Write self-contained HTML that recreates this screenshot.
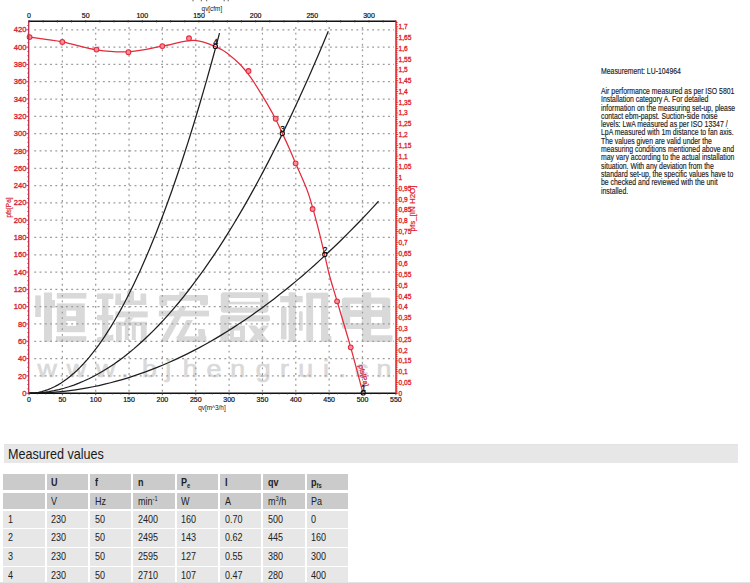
<!DOCTYPE html>
<html><head><meta charset="utf-8"><style>
html,body{margin:0;padding:0;background:#fff;}
body{width:750px;height:583px;position:relative;overflow:hidden;font-family:"Liberation Sans",sans-serif;}
.chart{position:absolute;left:0;top:0;}
.note{position:absolute;left:601px;font-size:8.2px;line-height:9px;color:#1a1a1a;-webkit-text-stroke:0.15px #1a1a1a;white-space:nowrap;transform:scaleX(0.84);transform-origin:0 0;}
.bar{position:absolute;left:3.5px;top:444.1px;width:734.2px;height:18.5px;background:#e7e7e7;border-top:1px solid #e2e2e2;box-sizing:border-box;}
.bar span{position:absolute;left:4.5px;top:1.2px;font-size:14.4px;color:#1a1a1a;transform:scaleX(0.875);transform-origin:0 0;white-space:nowrap;}
.c{position:absolute;width:41.3px;height:16.6px;font-size:11px;line-height:16.6px;color:#222;padding-left:4.6px;box-sizing:border-box;white-space:nowrap;}
.c span{display:inline-block;transform:scaleX(0.82);transform-origin:0 50%;}
.c.h{font-weight:bold;}
.c sub{font-size:7px;vertical-align:-2px;line-height:0;}
.c sup{font-size:7px;vertical-align:4px;line-height:0;}
.bot{position:absolute;left:0;top:581.6px;width:750px;height:1.4px;background:#e2e2e2;}
</style></head><body>
<svg class="chart" width="440" height="420" viewBox="0 0 440 420"><rect x="35.2" y="295.4" width="5.6" height="21.6" fill="#d9d9d9"/><rect x="44" y="292.5" width="8" height="49.3" fill="#d9d9d9"/><rect x="52" y="300" width="3" height="8" fill="#d9d9d9"/><rect x="56.8" y="293" width="29.6" height="5.6" fill="#d9d9d9"/><rect x="56.8" y="303.4" width="28" height="28.8" fill="#d9d9d9"/><rect x="66.4" y="310.6" width="9.6" height="5.6" fill="#ffffff"/><rect x="66.4" y="321" width="9.6" height="4.8" fill="#ffffff"/><rect x="56" y="336.2" width="30.4" height="5.6" fill="#d9d9d9"/><rect x="97" y="293.5" width="16.4" height="5.5" fill="#d9d9d9"/><rect x="102" y="293.5" width="6.4" height="48.2" fill="#d9d9d9"/><rect x="97" y="315" width="16.4" height="5.3" fill="#d9d9d9"/><polygon points="97,337.5 113.4,334.5 113.4,340.5 97,342.2" fill="#d9d9d9"/><rect x="115.4" y="293.5" width="5.6" height="11.5" fill="#d9d9d9"/><rect x="127" y="291" width="7" height="14" fill="#d9d9d9"/><rect x="140.5" y="293.5" width="5.7" height="11.5" fill="#d9d9d9"/><rect x="115.4" y="300.5" width="30.8" height="4.5" fill="#d9d9d9"/><rect x="115.4" y="311.4" width="32.3" height="6" fill="#d9d9d9"/><polygon points="126,317.4 134,317.4 130,322 124,322" fill="#d9d9d9"/><rect x="116" y="321.8" width="30.7" height="4.2" fill="#d9d9d9"/><rect x="116" y="321.8" width="5.8" height="20.4" fill="#d9d9d9"/><rect x="140.8" y="321.8" width="5.9" height="20.4" fill="#d9d9d9"/><rect x="124.8" y="321.8" width="4" height="18.2" fill="#d9d9d9"/><rect x="131.8" y="321.8" width="4" height="18.2" fill="#d9d9d9"/><rect x="179.2" y="291.5" width="6.3" height="4.5" fill="#d9d9d9"/><rect x="159.3" y="295" width="48.7" height="5.7" rx="2" fill="#d9d9d9"/><rect x="159.3" y="295" width="7.9" height="11" rx="2" fill="#d9d9d9"/><rect x="200" y="295" width="8" height="10.4" rx="2" fill="#d9d9d9"/><rect x="158.8" y="310.6" width="50.2" height="5.8" fill="#d9d9d9"/><polygon points="180.5,306 187,306 167,342 160,342" fill="#d9d9d9"/><polygon points="186.5,320 193,320 183.4,338 176.6,338" fill="#d9d9d9"/><rect x="176.6" y="336.3" width="29.8" height="5.7" fill="#d9d9d9"/><polygon points="198,329 204.5,329 206.4,342 199,342" fill="#d9d9d9"/><rect x="220.8" y="292.3" width="47.6" height="20.4" rx="3" fill="#d9d9d9"/><rect x="229" y="298" width="31" height="3.7" fill="#ffffff"/><rect x="229" y="304.4" width="31" height="3.1" fill="#ffffff"/><rect x="220.8" y="315.3" width="49.2" height="6.3" rx="2" fill="#d9d9d9"/><rect x="220.3" y="315.3" width="8.9" height="26.7" rx="2" fill="#d9d9d9"/><rect x="230" y="325.5" width="15" height="16.5" fill="#d9d9d9"/><rect x="234" y="330.5" width="6" height="6.5" fill="#ffffff"/><polygon points="248,325.5 256,325.5 269,342 260,342" fill="#d9d9d9"/><polygon points="262,325.5 269,325.5 256,342 248,342" fill="#d9d9d9"/><rect x="280.2" y="296" width="22.5" height="6.3" fill="#d9d9d9"/><rect x="288.6" y="292.3" width="7.3" height="49.7" fill="#d9d9d9"/><polygon points="281,307 286.5,307 286.5,339.4 281,339.4" fill="#d9d9d9"/><rect x="299" y="311" width="3.7" height="20" rx="1.8" fill="#d9d9d9"/><rect x="306.3" y="292.8" width="6.8" height="49.2" fill="#d9d9d9"/><rect x="306.3" y="292.8" width="22" height="5.8" rx="2" fill="#d9d9d9"/><rect x="321" y="292.8" width="7.3" height="49.2" fill="#d9d9d9"/><rect x="326" y="336" width="5.4" height="6" fill="#d9d9d9"/><rect x="341.8" y="297.6" width="48.6" height="31.4" rx="3" fill="#d9d9d9"/><rect x="350.2" y="303.8" width="11.5" height="6.3" fill="#ffffff"/><rect x="371.1" y="303.8" width="10.9" height="6.3" fill="#ffffff"/><rect x="350.2" y="316.9" width="11.5" height="6.3" fill="#ffffff"/><rect x="371.1" y="316.9" width="10.9" height="6.3" fill="#ffffff"/><rect x="362.2" y="292.3" width="8.9" height="49.7" fill="#d9d9d9"/><rect x="362.2" y="335.2" width="30.3" height="6.8" rx="1" fill="#d9d9d9"/><text transform="translate(37.44,377.3) scale(1.1,1)" font-size="24.3" fill="#d9d9d9" stroke="#d9d9d9" stroke-width="0.7" font-family="Liberation Sans">w</text><text transform="translate(66.74,377.3) scale(1.1,1)" font-size="24.3" fill="#d9d9d9" stroke="#d9d9d9" stroke-width="0.7" font-family="Liberation Sans">w</text><text transform="translate(96.04,377.3) scale(1.1,1)" font-size="24.3" fill="#d9d9d9" stroke="#d9d9d9" stroke-width="0.7" font-family="Liberation Sans">w</text><text transform="translate(121.06,377.3) scale(1.1,1)" font-size="24.3" fill="#d9d9d9" stroke="#d9d9d9" stroke-width="0.7" font-family="Liberation Sans">.</text><text transform="translate(141.98,377.3) scale(1.1,1)" font-size="24.3" fill="#d9d9d9" stroke="#d9d9d9" stroke-width="0.7" font-family="Liberation Sans">b</text><text transform="translate(165.15,377.3) scale(1.1,1)" font-size="24.3" fill="#d9d9d9" stroke="#d9d9d9" stroke-width="0.7" font-family="Liberation Sans">j</text><text transform="translate(182.65,377.3) scale(1.1,1)" font-size="24.3" fill="#d9d9d9" stroke="#d9d9d9" stroke-width="0.7" font-family="Liberation Sans">h</text><text transform="translate(206.56,377.3) scale(1.1,1)" font-size="24.3" fill="#d9d9d9" stroke="#d9d9d9" stroke-width="0.7" font-family="Liberation Sans">e</text><text transform="translate(230.32,377.3) scale(1.1,1)" font-size="24.3" fill="#d9d9d9" stroke="#d9d9d9" stroke-width="0.7" font-family="Liberation Sans">n</text><text transform="translate(255.78,377.3) scale(1.1,1)" font-size="24.3" fill="#d9d9d9" stroke="#d9d9d9" stroke-width="0.7" font-family="Liberation Sans">g</text><text transform="translate(279.92,377.3) scale(1.1,1)" font-size="24.3" fill="#d9d9d9" stroke="#d9d9d9" stroke-width="0.7" font-family="Liberation Sans">r</text><text transform="translate(298.36,377.3) scale(1.1,1)" font-size="24.3" fill="#d9d9d9" stroke="#d9d9d9" stroke-width="0.7" font-family="Liberation Sans">u</text><text transform="translate(323.11,377.3) scale(1.1,1)" font-size="24.3" fill="#d9d9d9" stroke="#d9d9d9" stroke-width="0.7" font-family="Liberation Sans">i</text><text transform="translate(338.56,377.3) scale(1.1,1)" font-size="24.3" fill="#d9d9d9" stroke="#d9d9d9" stroke-width="0.7" font-family="Liberation Sans">.</text><text transform="translate(354.76,377.3) scale(1.1,1)" font-size="24.3" fill="#d9d9d9" stroke="#d9d9d9" stroke-width="0.7" font-family="Liberation Sans">c</text><text transform="translate(376.62,377.3) scale(1.1,1)" font-size="24.3" fill="#d9d9d9" stroke="#d9d9d9" stroke-width="0.7" font-family="Liberation Sans">n</text><line x1="34.25" y1="375.9" x2="394" y2="375.9" stroke="#9c9c9c" stroke-width="1.25" stroke-dasharray="1.9 3.38"/><line x1="34.25" y1="358.59" x2="394" y2="358.59" stroke="#9c9c9c" stroke-width="1.25" stroke-dasharray="1.9 3.38"/><line x1="34.25" y1="341.29" x2="394" y2="341.29" stroke="#9c9c9c" stroke-width="1.25" stroke-dasharray="1.9 3.38"/><line x1="34.25" y1="323.98" x2="394" y2="323.98" stroke="#9c9c9c" stroke-width="1.25" stroke-dasharray="1.9 3.38"/><line x1="34.25" y1="306.68" x2="394" y2="306.68" stroke="#9c9c9c" stroke-width="1.25" stroke-dasharray="1.9 3.38"/><line x1="34.25" y1="289.38" x2="394" y2="289.38" stroke="#9c9c9c" stroke-width="1.25" stroke-dasharray="1.9 3.38"/><line x1="34.25" y1="272.07" x2="394" y2="272.07" stroke="#9c9c9c" stroke-width="1.25" stroke-dasharray="1.9 3.38"/><line x1="34.25" y1="254.77" x2="394" y2="254.77" stroke="#9c9c9c" stroke-width="1.25" stroke-dasharray="1.9 3.38"/><line x1="34.25" y1="237.46" x2="394" y2="237.46" stroke="#9c9c9c" stroke-width="1.25" stroke-dasharray="1.9 3.38"/><line x1="34.25" y1="220.16" x2="394" y2="220.16" stroke="#9c9c9c" stroke-width="1.25" stroke-dasharray="1.9 3.38"/><line x1="34.25" y1="202.86" x2="394" y2="202.86" stroke="#9c9c9c" stroke-width="1.25" stroke-dasharray="1.9 3.38"/><line x1="34.25" y1="185.55" x2="394" y2="185.55" stroke="#9c9c9c" stroke-width="1.25" stroke-dasharray="1.9 3.38"/><line x1="34.25" y1="168.25" x2="394" y2="168.25" stroke="#9c9c9c" stroke-width="1.25" stroke-dasharray="1.9 3.38"/><line x1="34.25" y1="150.94" x2="394" y2="150.94" stroke="#9c9c9c" stroke-width="1.25" stroke-dasharray="1.9 3.38"/><line x1="34.25" y1="133.64" x2="394" y2="133.64" stroke="#9c9c9c" stroke-width="1.25" stroke-dasharray="1.9 3.38"/><line x1="34.25" y1="116.34" x2="394" y2="116.34" stroke="#9c9c9c" stroke-width="1.25" stroke-dasharray="1.9 3.38"/><line x1="34.25" y1="99.03" x2="394" y2="99.03" stroke="#9c9c9c" stroke-width="1.25" stroke-dasharray="1.9 3.38"/><line x1="34.25" y1="81.73" x2="394" y2="81.73" stroke="#9c9c9c" stroke-width="1.25" stroke-dasharray="1.9 3.38"/><line x1="34.25" y1="64.42" x2="394" y2="64.42" stroke="#9c9c9c" stroke-width="1.25" stroke-dasharray="1.9 3.38"/><line x1="34.25" y1="47.12" x2="394" y2="47.12" stroke="#9c9c9c" stroke-width="1.25" stroke-dasharray="1.9 3.38"/><line x1="34.25" y1="29.82" x2="394" y2="29.82" stroke="#9c9c9c" stroke-width="1.25" stroke-dasharray="1.9 3.38"/><line x1="62.35" y1="27.05" x2="62.35" y2="392.2" stroke="#9c9c9c" stroke-width="1.25" stroke-dasharray="1.9 3.68"/><line x1="95.7" y1="27.05" x2="95.7" y2="392.2" stroke="#9c9c9c" stroke-width="1.25" stroke-dasharray="1.9 3.68"/><line x1="129.05" y1="27.05" x2="129.05" y2="392.2" stroke="#9c9c9c" stroke-width="1.25" stroke-dasharray="1.9 3.68"/><line x1="162.4" y1="27.05" x2="162.4" y2="392.2" stroke="#9c9c9c" stroke-width="1.25" stroke-dasharray="1.9 3.68"/><line x1="195.75" y1="27.05" x2="195.75" y2="392.2" stroke="#9c9c9c" stroke-width="1.25" stroke-dasharray="1.9 3.68"/><line x1="229.1" y1="27.05" x2="229.1" y2="392.2" stroke="#9c9c9c" stroke-width="1.25" stroke-dasharray="1.9 3.68"/><line x1="262.45" y1="27.05" x2="262.45" y2="392.2" stroke="#9c9c9c" stroke-width="1.25" stroke-dasharray="1.9 3.68"/><line x1="295.8" y1="27.05" x2="295.8" y2="392.2" stroke="#9c9c9c" stroke-width="1.25" stroke-dasharray="1.9 3.68"/><line x1="329.15" y1="27.05" x2="329.15" y2="392.2" stroke="#9c9c9c" stroke-width="1.25" stroke-dasharray="1.9 3.68"/><line x1="362.5" y1="27.05" x2="362.5" y2="392.2" stroke="#9c9c9c" stroke-width="1.25" stroke-dasharray="1.9 3.68"/><path d="M29.00,393.20 L32.17,393.10 L35.35,392.80 L38.52,392.30 L41.70,391.60 L44.87,390.70 L48.05,389.60 L51.22,388.30 L54.40,386.80 L57.57,385.10 L60.75,383.20 L63.92,381.10 L67.10,378.80 L70.27,376.30 L73.45,373.60 L76.62,370.70 L79.80,367.60 L82.97,364.30 L86.15,360.79 L89.32,357.09 L92.50,353.19 L95.67,349.09 L98.85,344.79 L102.02,340.29 L105.20,335.59 L108.37,330.69 L111.55,325.59 L114.72,320.29 L117.90,314.79 L121.07,309.09 L124.25,303.18 L127.42,297.08 L130.60,290.78 L133.77,284.28 L136.95,277.58 L140.12,270.68 L143.30,263.58 L146.47,256.28 L149.65,248.78 L152.82,241.07 L156.00,233.17 L159.17,225.07 L162.35,216.77 L165.52,208.27 L168.70,199.57 L171.87,190.67 L175.05,181.56 L178.22,172.26 L181.40,162.76 L184.57,153.06 L187.75,143.16 L190.92,133.06 L194.10,122.75 L197.27,112.25 L200.45,101.55 L203.62,90.65 L206.80,79.55 L209.97,68.24 L213.15,56.74 L216.32,45.04 L219.50,33.14" fill="none" stroke="#1e1e1e" stroke-width="1.25"/><path d="M29.00,393.20 L33.99,393.10 L38.98,392.80 L43.96,392.30 L48.95,391.59 L53.94,390.69 L58.93,389.58 L63.92,388.27 L68.90,386.77 L73.89,385.06 L78.88,383.15 L83.87,381.04 L88.86,378.72 L93.84,376.21 L98.83,373.50 L103.82,370.58 L108.81,367.47 L113.80,364.15 L118.78,360.63 L123.77,356.91 L128.76,352.99 L133.75,348.87 L138.74,344.55 L143.73,340.02 L148.71,335.30 L153.70,330.37 L158.69,325.24 L163.68,319.92 L168.67,314.39 L173.65,308.66 L178.64,302.73 L183.63,296.59 L188.62,290.26 L193.61,283.73 L198.59,276.99 L203.58,270.06 L208.57,262.92 L213.56,255.58 L218.55,248.04 L223.53,240.30 L228.52,232.36 L233.51,224.22 L238.50,215.87 L243.49,207.33 L248.47,198.58 L253.46,189.63 L258.45,180.49 L263.44,171.14 L268.43,161.59 L273.41,151.84 L278.40,141.88 L283.39,131.73 L288.38,121.38 L293.37,110.82 L298.35,100.06 L303.34,89.11 L308.33,77.95 L313.32,66.59 L318.31,55.03 L323.29,43.27 L328.28,31.30" fill="none" stroke="#1e1e1e" stroke-width="1.25"/><path d="M29.00,393.20 L34.83,393.15 L40.65,392.99 L46.48,392.72 L52.30,392.35 L58.13,391.87 L63.95,391.28 L69.78,390.59 L75.60,389.79 L81.43,388.88 L87.25,387.87 L93.08,386.75 L98.90,385.52 L104.73,384.19 L110.55,382.75 L116.38,381.20 L122.20,379.55 L128.03,377.79 L133.85,375.92 L139.68,373.95 L145.50,371.87 L151.33,369.69 L157.15,367.39 L162.98,364.99 L168.80,362.49 L174.63,359.88 L180.45,357.16 L186.28,354.33 L192.10,351.40 L197.93,348.36 L203.75,345.21 L209.58,341.96 L215.40,338.60 L221.23,335.14 L227.05,331.56 L232.88,327.89 L238.70,324.10 L244.53,320.21 L250.36,316.21 L256.18,312.10 L262.01,307.89 L267.83,303.57 L273.66,299.15 L279.48,294.61 L285.31,289.98 L291.13,285.23 L296.96,280.38 L302.78,275.42 L308.61,270.35 L314.43,265.18 L320.26,259.90 L326.08,254.52 L331.91,249.03 L337.73,243.43 L343.56,237.72 L349.38,231.91 L355.21,225.99 L361.03,219.97 L366.86,213.84 L372.68,207.60 L378.51,201.25" fill="none" stroke="#1e1e1e" stroke-width="1.25"/><circle cx="363.2" cy="392.9" r="2.1" fill="#fff"/><circle cx="324.8" cy="254.5" r="2.1" fill="#fff"/><circle cx="282.3" cy="133.5" r="2.1" fill="#fff"/><circle cx="215.4" cy="46.4" r="2.1" fill="#fff"/><path d="M29.00,37.10 C34.55,37.90 51.03,39.78 62.30,41.90 C73.57,44.02 85.60,48.15 96.60,49.80 C107.60,51.45 117.35,52.40 128.30,51.80 C139.25,51.20 151.35,48.12 162.30,46.20 C173.25,44.28 184.77,40.07 194.00,40.30 C203.23,40.53 211.92,45.25 217.70,47.60 C223.48,49.95 224.92,51.55 228.70,54.40 C232.48,57.25 236.77,60.92 240.40,64.70 C244.03,68.48 246.85,71.95 250.50,77.10 C254.15,82.25 258.27,88.92 262.30,95.60 C266.33,102.28 271.35,110.90 274.70,117.20 C278.05,123.50 280.02,128.30 282.40,133.40 C284.78,138.50 286.80,142.82 289.00,147.80 C291.20,152.78 292.40,155.75 295.60,163.30 C298.80,170.85 304.43,182.27 308.20,193.10 C311.97,203.93 315.47,218.03 318.20,228.30 C320.93,238.57 322.72,246.83 324.60,254.70 C326.48,262.57 327.42,267.73 329.50,275.50 C331.58,283.27 333.57,289.33 337.10,301.30 C340.63,313.27 346.42,332.13 350.70,347.30 C354.98,362.47 360.78,384.80 362.80,392.30" fill="none" stroke="#e42a3c" stroke-width="1.25"/><circle cx="29.6" cy="37.1" r="2.4" fill="#f3909a" stroke="#e42a3c" stroke-width="1.05"/><circle cx="62.3" cy="41.9" r="2.4" fill="#f3909a" stroke="#e42a3c" stroke-width="1.05"/><circle cx="96.5" cy="49.6" r="2.4" fill="#f3909a" stroke="#e42a3c" stroke-width="1.05"/><circle cx="128.4" cy="52.2" r="2.4" fill="#f3909a" stroke="#e42a3c" stroke-width="1.05"/><circle cx="162.3" cy="46.1" r="2.4" fill="#f3909a" stroke="#e42a3c" stroke-width="1.05"/><circle cx="189" cy="38.3" r="2.4" fill="#f3909a" stroke="#e42a3c" stroke-width="1.05"/><circle cx="248.5" cy="71" r="2.4" fill="#f3909a" stroke="#e42a3c" stroke-width="1.05"/><circle cx="275.7" cy="118.7" r="2.4" fill="#f3909a" stroke="#e42a3c" stroke-width="1.05"/><circle cx="295.6" cy="163.3" r="2.4" fill="#f3909a" stroke="#e42a3c" stroke-width="1.05"/><circle cx="312.6" cy="209" r="2.4" fill="#f3909a" stroke="#e42a3c" stroke-width="1.05"/><circle cx="337.1" cy="301.3" r="2.4" fill="#f3909a" stroke="#e42a3c" stroke-width="1.05"/><circle cx="350.7" cy="347.3" r="2.4" fill="#f3909a" stroke="#e42a3c" stroke-width="1.05"/><text transform="translate(358.6,365.6) rotate(75)" font-size="6.8" textLength="22" lengthAdjust="spacingAndGlyphs" fill="#d62a40" stroke="#d62a40" stroke-width="0.3" font-family="Liberation Sans">pfs[Pa]</text><circle cx="363.2" cy="392.9" r="2.1" fill="none" stroke="#111" stroke-width="1.1"/><text x="363.5" y="391" font-size="8.4" text-anchor="middle" fill="#111" stroke="#111" stroke-width="0.3" font-family="Liberation Sans">1</text><circle cx="324.8" cy="254.5" r="2.1" fill="none" stroke="#111" stroke-width="1.1"/><text x="325.1" y="252.6" font-size="8.4" text-anchor="middle" fill="#111" stroke="#111" stroke-width="0.3" font-family="Liberation Sans">2</text><circle cx="282.3" cy="133.5" r="2.1" fill="none" stroke="#111" stroke-width="1.1"/><text x="282.6" y="131.6" font-size="8.4" text-anchor="middle" fill="#111" stroke="#111" stroke-width="0.3" font-family="Liberation Sans">3</text><circle cx="215.4" cy="46.4" r="2.1" fill="none" stroke="#111" stroke-width="1.1"/><text x="215.7" y="44.5" font-size="8.4" text-anchor="middle" fill="#111" stroke="#111" stroke-width="0.3" font-family="Liberation Sans">4</text><line x1="29" y1="21.3" x2="396" y2="21.3" stroke="#111" stroke-width="1.5"/><line x1="29" y1="393.2" x2="396" y2="393.2" stroke="#111" stroke-width="1.6"/><line x1="28.7" y1="20.6" x2="28.7" y2="394" stroke="#bf2f48" stroke-width="1.3"/><path d="M26.40,393.20h2.6M27.40,388.87h1.6M27.40,384.55h1.6M27.40,380.22h1.6M26.40,375.90h2.6M27.40,371.57h1.6M27.40,367.24h1.6M27.40,362.92h1.6M26.40,358.59h2.6M27.40,354.27h1.6M27.40,349.94h1.6M27.40,345.61h1.6M26.40,341.29h2.6M27.40,336.96h1.6M27.40,332.64h1.6M27.40,328.31h1.6M26.40,323.98h2.6M27.40,319.66h1.6M27.40,315.33h1.6M27.40,311.01h1.6M26.40,306.68h2.6M27.40,302.35h1.6M27.40,298.03h1.6M27.40,293.70h1.6M26.40,289.38h2.6M27.40,285.05h1.6M27.40,280.72h1.6M27.40,276.40h1.6M26.40,272.07h2.6M27.40,267.75h1.6M27.40,263.42h1.6M27.40,259.09h1.6M26.40,254.77h2.6M27.40,250.44h1.6M27.40,246.12h1.6M27.40,241.79h1.6M26.40,237.46h2.6M27.40,233.14h1.6M27.40,228.81h1.6M27.40,224.49h1.6M26.40,220.16h2.6M27.40,215.83h1.6M27.40,211.51h1.6M27.40,207.18h1.6M26.40,202.86h2.6M27.40,198.53h1.6M27.40,194.20h1.6M27.40,189.88h1.6M26.40,185.55h2.6M27.40,181.23h1.6M27.40,176.90h1.6M27.40,172.57h1.6M26.40,168.25h2.6M27.40,163.92h1.6M27.40,159.60h1.6M27.40,155.27h1.6M26.40,150.94h2.6M27.40,146.62h1.6M27.40,142.29h1.6M27.40,137.97h1.6M26.40,133.64h2.6M27.40,129.31h1.6M27.40,124.99h1.6M27.40,120.66h1.6M26.40,116.34h2.6M27.40,112.01h1.6M27.40,107.68h1.6M27.40,103.36h1.6M26.40,99.03h2.6M27.40,94.71h1.6M27.40,90.38h1.6M27.40,86.05h1.6M26.40,81.73h2.6M27.40,77.40h1.6M27.40,73.08h1.6M27.40,68.75h1.6M26.40,64.42h2.6M27.40,60.10h1.6M27.40,55.77h1.6M27.40,51.45h1.6M26.40,47.12h2.6M27.40,42.79h1.6M27.40,38.47h1.6M27.40,34.14h1.6M26.40,29.82h2.6M27.40,25.49h1.6" stroke="#bf2f48" stroke-width="1"/><line x1="396" y1="20.6" x2="396" y2="394" stroke="#e4101c" stroke-width="1.4"/><path d="M396.00,393.20h2.2M396.00,391.04h1.6M396.00,388.89h1.6M396.00,386.73h1.6M396.00,384.58h1.6M396.00,382.42h2.2M396.00,380.27h1.6M396.00,378.11h1.6M396.00,375.96h1.6M396.00,373.80h1.6M396.00,371.65h2.2M396.00,369.49h1.6M396.00,367.34h1.6M396.00,365.18h1.6M396.00,363.03h1.6M396.00,360.87h2.2M396.00,358.72h1.6M396.00,356.56h1.6M396.00,354.41h1.6M396.00,352.25h1.6M396.00,350.10h2.2M396.00,347.94h1.6M396.00,345.79h1.6M396.00,343.63h1.6M396.00,341.48h1.6M396.00,339.32h2.2M396.00,337.17h1.6M396.00,335.01h1.6M396.00,332.86h1.6M396.00,330.70h1.6M396.00,328.55h2.2M396.00,326.39h1.6M396.00,324.24h1.6M396.00,322.08h1.6M396.00,319.93h1.6M396.00,317.77h2.2M396.00,315.62h1.6M396.00,313.46h1.6M396.00,311.31h1.6M396.00,309.15h1.6M396.00,307.00h2.2M396.00,304.84h1.6M396.00,302.69h1.6M396.00,300.53h1.6M396.00,298.37h1.6M396.00,296.22h2.2M396.00,294.06h1.6M396.00,291.91h1.6M396.00,289.75h1.6M396.00,287.60h1.6M396.00,285.44h2.2M396.00,283.29h1.6M396.00,281.13h1.6M396.00,278.98h1.6M396.00,276.82h1.6M396.00,274.67h2.2M396.00,272.51h1.6M396.00,270.36h1.6M396.00,268.20h1.6M396.00,266.05h1.6M396.00,263.89h2.2M396.00,261.74h1.6M396.00,259.58h1.6M396.00,257.43h1.6M396.00,255.27h1.6M396.00,253.12h2.2M396.00,250.96h1.6M396.00,248.81h1.6M396.00,246.65h1.6M396.00,244.50h1.6M396.00,242.34h2.2M396.00,240.19h1.6M396.00,238.03h1.6M396.00,235.88h1.6M396.00,233.72h1.6M396.00,231.57h2.2M396.00,229.41h1.6M396.00,227.26h1.6M396.00,225.10h1.6M396.00,222.95h1.6M396.00,220.79h2.2M396.00,218.64h1.6M396.00,216.48h1.6M396.00,214.33h1.6M396.00,212.17h1.6M396.00,210.01h2.2M396.00,207.86h1.6M396.00,205.70h1.6M396.00,203.55h1.6M396.00,201.39h1.6M396.00,199.24h2.2M396.00,197.08h1.6M396.00,194.93h1.6M396.00,192.77h1.6M396.00,190.62h1.6M396.00,188.46h2.2M396.00,186.31h1.6M396.00,184.15h1.6M396.00,182.00h1.6M396.00,179.84h1.6M396.00,177.69h2.2M396.00,175.53h1.6M396.00,173.38h1.6M396.00,171.22h1.6M396.00,169.07h1.6M396.00,166.91h2.2M396.00,164.76h1.6M396.00,162.60h1.6M396.00,160.45h1.6M396.00,158.29h1.6M396.00,156.14h2.2M396.00,153.98h1.6M396.00,151.83h1.6M396.00,149.67h1.6M396.00,147.52h1.6M396.00,145.36h2.2M396.00,143.21h1.6M396.00,141.05h1.6M396.00,138.90h1.6M396.00,136.74h1.6M396.00,134.59h2.2M396.00,132.43h1.6M396.00,130.28h1.6M396.00,128.12h1.6M396.00,125.97h1.6M396.00,123.81h2.2M396.00,121.66h1.6M396.00,119.50h1.6M396.00,117.34h1.6M396.00,115.19h1.6M396.00,113.03h2.2M396.00,110.88h1.6M396.00,108.72h1.6M396.00,106.57h1.6M396.00,104.41h1.6M396.00,102.26h2.2M396.00,100.10h1.6M396.00,97.95h1.6M396.00,95.79h1.6M396.00,93.64h1.6M396.00,91.48h2.2M396.00,89.33h1.6M396.00,87.17h1.6M396.00,85.02h1.6M396.00,82.86h1.6M396.00,80.71h2.2M396.00,78.55h1.6M396.00,76.40h1.6M396.00,74.24h1.6M396.00,72.09h1.6M396.00,69.93h2.2M396.00,67.78h1.6M396.00,65.62h1.6M396.00,63.47h1.6M396.00,61.31h1.6M396.00,59.16h2.2M396.00,57.00h1.6M396.00,54.85h1.6M396.00,52.69h1.6M396.00,50.54h1.6M396.00,48.38h2.2M396.00,46.23h1.6M396.00,44.07h1.6M396.00,41.92h1.6M396.00,39.76h1.6M396.00,37.61h2.2M396.00,35.45h1.6M396.00,33.30h1.6M396.00,31.14h1.6M396.00,28.99h1.6M396.00,26.83h2.2M396.00,24.67h1.6M396.00,22.52h1.6" stroke="#e4101c" stroke-width="0.9"/><path d="M29.00,393.20v2.0M37.34,393.20v1.2M45.67,393.20v1.2M54.01,393.20v1.2M62.35,393.20v2.0M70.69,393.20v1.2M79.03,393.20v1.2M87.36,393.20v1.2M95.70,393.20v2.0M104.04,393.20v1.2M112.38,393.20v1.2M120.71,393.20v1.2M129.05,393.20v2.0M137.39,393.20v1.2M145.73,393.20v1.2M154.06,393.20v1.2M162.40,393.20v2.0M170.74,393.20v1.2M179.08,393.20v1.2M187.41,393.20v1.2M195.75,393.20v2.0M204.09,393.20v1.2M212.43,393.20v1.2M220.76,393.20v1.2M229.10,393.20v2.0M237.44,393.20v1.2M245.78,393.20v1.2M254.11,393.20v1.2M262.45,393.20v2.0M270.79,393.20v1.2M279.12,393.20v1.2M287.46,393.20v1.2M295.80,393.20v2.0M304.14,393.20v1.2M312.48,393.20v1.2M320.81,393.20v1.2M329.15,393.20v2.0M337.49,393.20v1.2M345.83,393.20v1.2M354.16,393.20v1.2M362.50,393.20v2.0M370.84,393.20v1.2M379.18,393.20v1.2M387.51,393.20v1.2M395.85,393.20v2.0" stroke="#333" stroke-width="0.8"/><path d="M29.00,20.10v2.4M43.17,20.10v2.4M57.33,20.10v2.4M71.50,20.10v2.4M85.66,20.10v2.4M99.83,20.10v2.4M113.99,20.10v2.4M128.16,20.10v2.4M142.32,20.10v2.4M156.49,20.10v2.4M170.65,20.10v2.4M184.82,20.10v2.4M198.98,20.10v2.4M213.15,20.10v2.4M227.32,20.10v2.4M241.48,20.10v2.4M255.65,20.10v2.4M269.81,20.10v2.4M283.98,20.10v2.4M298.14,20.10v2.4M312.31,20.10v2.4M326.47,20.10v2.4M340.64,20.10v2.4M354.80,20.10v2.4M368.97,20.10v2.4M383.14,20.10v2.4" stroke="#333" stroke-width="0.8"/><text x="26.4" y="395.8" font-size="7.6" text-anchor="end" fill="#d62a40" stroke="#d62a40" stroke-width="0.35" font-family="Liberation Sans">0</text><text x="26.4" y="378.5" font-size="7.6" text-anchor="end" fill="#d62a40" stroke="#d62a40" stroke-width="0.35" font-family="Liberation Sans">20</text><text x="26.4" y="361.19" font-size="7.6" text-anchor="end" fill="#d62a40" stroke="#d62a40" stroke-width="0.35" font-family="Liberation Sans">40</text><text x="26.4" y="343.89" font-size="7.6" text-anchor="end" fill="#d62a40" stroke="#d62a40" stroke-width="0.35" font-family="Liberation Sans">60</text><text x="26.4" y="326.58" font-size="7.6" text-anchor="end" fill="#d62a40" stroke="#d62a40" stroke-width="0.35" font-family="Liberation Sans">80</text><text x="26.4" y="309.28" font-size="7.6" text-anchor="end" fill="#d62a40" stroke="#d62a40" stroke-width="0.35" font-family="Liberation Sans">100</text><text x="26.4" y="291.98" font-size="7.6" text-anchor="end" fill="#d62a40" stroke="#d62a40" stroke-width="0.35" font-family="Liberation Sans">120</text><text x="26.4" y="274.67" font-size="7.6" text-anchor="end" fill="#d62a40" stroke="#d62a40" stroke-width="0.35" font-family="Liberation Sans">140</text><text x="26.4" y="257.37" font-size="7.6" text-anchor="end" fill="#d62a40" stroke="#d62a40" stroke-width="0.35" font-family="Liberation Sans">160</text><text x="26.4" y="240.06" font-size="7.6" text-anchor="end" fill="#d62a40" stroke="#d62a40" stroke-width="0.35" font-family="Liberation Sans">180</text><text x="26.4" y="222.76" font-size="7.6" text-anchor="end" fill="#d62a40" stroke="#d62a40" stroke-width="0.35" font-family="Liberation Sans">200</text><text x="26.4" y="205.46" font-size="7.6" text-anchor="end" fill="#d62a40" stroke="#d62a40" stroke-width="0.35" font-family="Liberation Sans">220</text><text x="26.4" y="188.15" font-size="7.6" text-anchor="end" fill="#d62a40" stroke="#d62a40" stroke-width="0.35" font-family="Liberation Sans">240</text><text x="26.4" y="170.85" font-size="7.6" text-anchor="end" fill="#d62a40" stroke="#d62a40" stroke-width="0.35" font-family="Liberation Sans">260</text><text x="26.4" y="153.54" font-size="7.6" text-anchor="end" fill="#d62a40" stroke="#d62a40" stroke-width="0.35" font-family="Liberation Sans">280</text><text x="26.4" y="136.24" font-size="7.6" text-anchor="end" fill="#d62a40" stroke="#d62a40" stroke-width="0.35" font-family="Liberation Sans">300</text><text x="26.4" y="118.94" font-size="7.6" text-anchor="end" fill="#d62a40" stroke="#d62a40" stroke-width="0.35" font-family="Liberation Sans">320</text><text x="26.4" y="101.63" font-size="7.6" text-anchor="end" fill="#d62a40" stroke="#d62a40" stroke-width="0.35" font-family="Liberation Sans">340</text><text x="26.4" y="84.33" font-size="7.6" text-anchor="end" fill="#d62a40" stroke="#d62a40" stroke-width="0.35" font-family="Liberation Sans">360</text><text x="26.4" y="67.02" font-size="7.6" text-anchor="end" fill="#d62a40" stroke="#d62a40" stroke-width="0.35" font-family="Liberation Sans">380</text><text x="26.4" y="49.72" font-size="7.6" text-anchor="end" fill="#d62a40" stroke="#d62a40" stroke-width="0.35" font-family="Liberation Sans">400</text><text x="26.4" y="32.42" font-size="7.6" text-anchor="end" fill="#d62a40" stroke="#d62a40" stroke-width="0.35" font-family="Liberation Sans">420</text><text x="398.6" y="395.6" font-size="6.6" fill="#e0202e" stroke="#e0202e" stroke-width="0.3" font-family="Liberation Sans">0</text><text x="398.6" y="384.82" font-size="6.6" fill="#e0202e" stroke="#e0202e" stroke-width="0.3" font-family="Liberation Sans">0,05</text><text x="398.6" y="374.05" font-size="6.6" fill="#e0202e" stroke="#e0202e" stroke-width="0.3" font-family="Liberation Sans">0,1</text><text x="398.6" y="363.27" font-size="6.6" fill="#e0202e" stroke="#e0202e" stroke-width="0.3" font-family="Liberation Sans">0,15</text><text x="398.6" y="352.5" font-size="6.6" fill="#e0202e" stroke="#e0202e" stroke-width="0.3" font-family="Liberation Sans">0,2</text><text x="398.6" y="341.72" font-size="6.6" fill="#e0202e" stroke="#e0202e" stroke-width="0.3" font-family="Liberation Sans">0,25</text><text x="398.6" y="330.95" font-size="6.6" fill="#e0202e" stroke="#e0202e" stroke-width="0.3" font-family="Liberation Sans">0,3</text><text x="398.6" y="320.17" font-size="6.6" fill="#e0202e" stroke="#e0202e" stroke-width="0.3" font-family="Liberation Sans">0,35</text><text x="398.6" y="309.4" font-size="6.6" fill="#e0202e" stroke="#e0202e" stroke-width="0.3" font-family="Liberation Sans">0,4</text><text x="398.6" y="298.62" font-size="6.6" fill="#e0202e" stroke="#e0202e" stroke-width="0.3" font-family="Liberation Sans">0,45</text><text x="398.6" y="287.84" font-size="6.6" fill="#e0202e" stroke="#e0202e" stroke-width="0.3" font-family="Liberation Sans">0,5</text><text x="398.6" y="277.07" font-size="6.6" fill="#e0202e" stroke="#e0202e" stroke-width="0.3" font-family="Liberation Sans">0,55</text><text x="398.6" y="266.29" font-size="6.6" fill="#e0202e" stroke="#e0202e" stroke-width="0.3" font-family="Liberation Sans">0,6</text><text x="398.6" y="255.52" font-size="6.6" fill="#e0202e" stroke="#e0202e" stroke-width="0.3" font-family="Liberation Sans">0,65</text><text x="398.6" y="244.74" font-size="6.6" fill="#e0202e" stroke="#e0202e" stroke-width="0.3" font-family="Liberation Sans">0,7</text><text x="398.6" y="233.97" font-size="6.6" fill="#e0202e" stroke="#e0202e" stroke-width="0.3" font-family="Liberation Sans">0,75</text><text x="398.6" y="223.19" font-size="6.6" fill="#e0202e" stroke="#e0202e" stroke-width="0.3" font-family="Liberation Sans">0,8</text><text x="398.6" y="212.41" font-size="6.6" fill="#e0202e" stroke="#e0202e" stroke-width="0.3" font-family="Liberation Sans">0,85</text><text x="398.6" y="201.64" font-size="6.6" fill="#e0202e" stroke="#e0202e" stroke-width="0.3" font-family="Liberation Sans">0,9</text><text x="398.6" y="190.86" font-size="6.6" fill="#e0202e" stroke="#e0202e" stroke-width="0.3" font-family="Liberation Sans">0,95</text><text x="398.6" y="180.09" font-size="6.6" fill="#e0202e" stroke="#e0202e" stroke-width="0.3" font-family="Liberation Sans">1</text><text x="398.6" y="169.31" font-size="6.6" fill="#e0202e" stroke="#e0202e" stroke-width="0.3" font-family="Liberation Sans">1,05</text><text x="398.6" y="158.54" font-size="6.6" fill="#e0202e" stroke="#e0202e" stroke-width="0.3" font-family="Liberation Sans">1,1</text><text x="398.6" y="147.76" font-size="6.6" fill="#e0202e" stroke="#e0202e" stroke-width="0.3" font-family="Liberation Sans">1,15</text><text x="398.6" y="136.99" font-size="6.6" fill="#e0202e" stroke="#e0202e" stroke-width="0.3" font-family="Liberation Sans">1,2</text><text x="398.6" y="126.21" font-size="6.6" fill="#e0202e" stroke="#e0202e" stroke-width="0.3" font-family="Liberation Sans">1,25</text><text x="398.6" y="115.43" font-size="6.6" fill="#e0202e" stroke="#e0202e" stroke-width="0.3" font-family="Liberation Sans">1,3</text><text x="398.6" y="104.66" font-size="6.6" fill="#e0202e" stroke="#e0202e" stroke-width="0.3" font-family="Liberation Sans">1,35</text><text x="398.6" y="93.88" font-size="6.6" fill="#e0202e" stroke="#e0202e" stroke-width="0.3" font-family="Liberation Sans">1,4</text><text x="398.6" y="83.11" font-size="6.6" fill="#e0202e" stroke="#e0202e" stroke-width="0.3" font-family="Liberation Sans">1,45</text><text x="398.6" y="72.33" font-size="6.6" fill="#e0202e" stroke="#e0202e" stroke-width="0.3" font-family="Liberation Sans">1,5</text><text x="398.6" y="61.56" font-size="6.6" fill="#e0202e" stroke="#e0202e" stroke-width="0.3" font-family="Liberation Sans">1,55</text><text x="398.6" y="50.78" font-size="6.6" fill="#e0202e" stroke="#e0202e" stroke-width="0.3" font-family="Liberation Sans">1,6</text><text x="398.6" y="40.01" font-size="6.6" fill="#e0202e" stroke="#e0202e" stroke-width="0.3" font-family="Liberation Sans">1,65</text><text x="398.6" y="29.23" font-size="6.6" fill="#e0202e" stroke="#e0202e" stroke-width="0.3" font-family="Liberation Sans">1,7</text><text x="29" y="402" font-size="7" text-anchor="middle" fill="#111" stroke="#111" stroke-width="0.2" font-family="Liberation Sans">0</text><text x="62.35" y="402" font-size="7" text-anchor="middle" fill="#111" stroke="#111" stroke-width="0.2" font-family="Liberation Sans">50</text><text x="95.7" y="402" font-size="7" text-anchor="middle" fill="#111" stroke="#111" stroke-width="0.2" font-family="Liberation Sans">100</text><text x="129.05" y="402" font-size="7" text-anchor="middle" fill="#111" stroke="#111" stroke-width="0.2" font-family="Liberation Sans">150</text><text x="162.4" y="402" font-size="7" text-anchor="middle" fill="#111" stroke="#111" stroke-width="0.2" font-family="Liberation Sans">200</text><text x="195.75" y="402" font-size="7" text-anchor="middle" fill="#111" stroke="#111" stroke-width="0.2" font-family="Liberation Sans">250</text><text x="229.1" y="402" font-size="7" text-anchor="middle" fill="#111" stroke="#111" stroke-width="0.2" font-family="Liberation Sans">300</text><text x="262.45" y="402" font-size="7" text-anchor="middle" fill="#111" stroke="#111" stroke-width="0.2" font-family="Liberation Sans">350</text><text x="295.8" y="402" font-size="7" text-anchor="middle" fill="#111" stroke="#111" stroke-width="0.2" font-family="Liberation Sans">400</text><text x="329.15" y="402" font-size="7" text-anchor="middle" fill="#111" stroke="#111" stroke-width="0.2" font-family="Liberation Sans">450</text><text x="362.5" y="402" font-size="7" text-anchor="middle" fill="#111" stroke="#111" stroke-width="0.2" font-family="Liberation Sans">500</text><text x="395.85" y="402" font-size="7" text-anchor="middle" fill="#111" stroke="#111" stroke-width="0.2" font-family="Liberation Sans">550</text><text x="29" y="17.6" font-size="7" text-anchor="middle" fill="#111" stroke="#111" stroke-width="0.2" font-family="Liberation Sans">0</text><text x="85.66" y="17.6" font-size="7" text-anchor="middle" fill="#111" stroke="#111" stroke-width="0.2" font-family="Liberation Sans">50</text><text x="142.32" y="17.6" font-size="7" text-anchor="middle" fill="#111" stroke="#111" stroke-width="0.2" font-family="Liberation Sans">100</text><text x="198.98" y="17.6" font-size="7" text-anchor="middle" fill="#111" stroke="#111" stroke-width="0.2" font-family="Liberation Sans">150</text><text x="255.65" y="17.6" font-size="7" text-anchor="middle" fill="#111" stroke="#111" stroke-width="0.2" font-family="Liberation Sans">200</text><text x="312.31" y="17.6" font-size="7" text-anchor="middle" fill="#111" stroke="#111" stroke-width="0.2" font-family="Liberation Sans">250</text><text x="368.97" y="17.6" font-size="7" text-anchor="middle" fill="#111" stroke="#111" stroke-width="0.2" font-family="Liberation Sans">300</text><text x="201.6" y="11" font-size="6.4" fill="#111" font-family="Liberation Sans">qv[cfm]</text><text x="198.2" y="409.8" font-size="6.4" fill="#111" font-family="Liberation Sans">qv[m^3/h]</text><text transform="translate(11.1,217.5) rotate(-90)" font-size="6.4" textLength="20" lengthAdjust="spacingAndGlyphs" fill="#d62a40" stroke="#d62a40" stroke-width="0.2" font-family="Liberation Sans">pfs[Pa]</text><text transform="translate(415.3,231.5) rotate(-90)" font-size="7" textLength="46" lengthAdjust="spacingAndGlyphs" fill="#e0202e" stroke="#e0202e" stroke-width="0.2" font-family="Liberation Sans">pfs_[IN H2O]</text><rect x="192.4" y="0" width="1.2" height="1.3" fill="#777"/><rect x="200.8" y="0" width="1.2" height="1.3" fill="#777"/><rect x="206" y="0" width="1.2" height="1.3" fill="#777"/><rect x="223.6" y="0" width="1.2" height="1.3" fill="#777"/><rect x="227.6" y="0" width="1.2" height="1.3" fill="#777"/></svg><div class="note" style="top:67.2px">Measurement: LU-104964</div><div class="note" style="top:86.9px">Air performance measured as per ISO 5801</div><div class="note" style="top:95.2px">Installation category A. For detailed</div><div class="note" style="top:103.5px">information on the measuring set-up, please</div><div class="note" style="top:111.8px">contact ebm-papst. Suction-side noise</div><div class="note" style="top:120.1px">levels: LwA measured as per ISO 13347 /</div><div class="note" style="top:128.4px">LpA measured with 1m distance to fan axis.</div><div class="note" style="top:136.7px">The values given are valid under the</div><div class="note" style="top:145px">measuring conditions mentioned above and</div><div class="note" style="top:153.3px">may vary according to the actual installation</div><div class="note" style="top:161.6px">situation. With any deviation from the</div><div class="note" style="top:169.9px">standard set-up, the specific values have to</div><div class="note" style="top:178.2px">be checked and reviewed with the unit</div><div class="note" style="top:186.5px">installed.</div><div class="bar"><span>Measured values</span></div><div class="c h" style="left:3.3px;top:474.1px;height:16.4px;line-height:16.4px;background:#cbcbcb"></div><div class="c h" style="left:46.65px;top:474.1px;height:16.4px;line-height:16.4px;background:#cbcbcb"><span>U</span></div><div class="c h" style="left:90px;top:474.1px;height:16.4px;line-height:16.4px;background:#cbcbcb"><span>f</span></div><div class="c h" style="left:133.35px;top:474.1px;height:16.4px;line-height:16.4px;background:#cbcbcb"><span>n</span></div><div class="c h" style="left:176.7px;top:474.1px;height:16.4px;line-height:16.4px;background:#cbcbcb"><span>P<sub>e</sub></span></div><div class="c h" style="left:220.05px;top:474.1px;height:16.4px;line-height:16.4px;background:#cbcbcb"><span>I</span></div><div class="c h" style="left:263.4px;top:474.1px;height:16.4px;line-height:16.4px;background:#cbcbcb"><span>qv</span></div><div class="c h" style="left:306.75px;top:474.1px;height:16.4px;line-height:16.4px;background:#cbcbcb"><span>p<sub>fs</sub></span></div><div class="c" style="left:3.3px;top:492.8px;height:16.4px;line-height:16.4px;background:#cbcbcb"></div><div class="c" style="left:46.65px;top:492.8px;height:16.4px;line-height:16.4px;background:#cbcbcb"><span>V</span></div><div class="c" style="left:90px;top:492.8px;height:16.4px;line-height:16.4px;background:#cbcbcb"><span>Hz</span></div><div class="c" style="left:133.35px;top:492.8px;height:16.4px;line-height:16.4px;background:#cbcbcb"><span>min<sup>-1</sup></span></div><div class="c" style="left:176.7px;top:492.8px;height:16.4px;line-height:16.4px;background:#cbcbcb"><span>W</span></div><div class="c" style="left:220.05px;top:492.8px;height:16.4px;line-height:16.4px;background:#cbcbcb"><span>A</span></div><div class="c" style="left:263.4px;top:492.8px;height:16.4px;line-height:16.4px;background:#cbcbcb"><span>m<sup>3</sup>/h</span></div><div class="c" style="left:306.75px;top:492.8px;height:16.4px;line-height:16.4px;background:#cbcbcb"><span>Pa</span></div><div class="c" style="left:3.3px;top:510.5px;height:17.3px;line-height:17.3px;background:#e7e7e7"><span>1</span></div><div class="c" style="left:46.65px;top:510.5px;height:17.3px;line-height:17.3px;background:#e7e7e7"><span>230</span></div><div class="c" style="left:90px;top:510.5px;height:17.3px;line-height:17.3px;background:#e7e7e7"><span>50</span></div><div class="c" style="left:133.35px;top:510.5px;height:17.3px;line-height:17.3px;background:#e7e7e7"><span>2400</span></div><div class="c" style="left:176.7px;top:510.5px;height:17.3px;line-height:17.3px;background:#e7e7e7"><span>160</span></div><div class="c" style="left:220.05px;top:510.5px;height:17.3px;line-height:17.3px;background:#e7e7e7"><span>0.70</span></div><div class="c" style="left:263.4px;top:510.5px;height:17.3px;line-height:17.3px;background:#e7e7e7"><span>500</span></div><div class="c" style="left:306.75px;top:510.5px;height:17.3px;line-height:17.3px;background:#e7e7e7"><span>0</span></div><div class="c" style="left:3.3px;top:529.4px;height:17.3px;line-height:17.3px;background:#e7e7e7"><span>2</span></div><div class="c" style="left:46.65px;top:529.4px;height:17.3px;line-height:17.3px;background:#e7e7e7"><span>230</span></div><div class="c" style="left:90px;top:529.4px;height:17.3px;line-height:17.3px;background:#e7e7e7"><span>50</span></div><div class="c" style="left:133.35px;top:529.4px;height:17.3px;line-height:17.3px;background:#e7e7e7"><span>2495</span></div><div class="c" style="left:176.7px;top:529.4px;height:17.3px;line-height:17.3px;background:#e7e7e7"><span>143</span></div><div class="c" style="left:220.05px;top:529.4px;height:17.3px;line-height:17.3px;background:#e7e7e7"><span>0.62</span></div><div class="c" style="left:263.4px;top:529.4px;height:17.3px;line-height:17.3px;background:#e7e7e7"><span>445</span></div><div class="c" style="left:306.75px;top:529.4px;height:17.3px;line-height:17.3px;background:#e7e7e7"><span>160</span></div><div class="c" style="left:3.3px;top:548.3px;height:17.3px;line-height:17.3px;background:#e7e7e7"><span>3</span></div><div class="c" style="left:46.65px;top:548.3px;height:17.3px;line-height:17.3px;background:#e7e7e7"><span>230</span></div><div class="c" style="left:90px;top:548.3px;height:17.3px;line-height:17.3px;background:#e7e7e7"><span>50</span></div><div class="c" style="left:133.35px;top:548.3px;height:17.3px;line-height:17.3px;background:#e7e7e7"><span>2595</span></div><div class="c" style="left:176.7px;top:548.3px;height:17.3px;line-height:17.3px;background:#e7e7e7"><span>127</span></div><div class="c" style="left:220.05px;top:548.3px;height:17.3px;line-height:17.3px;background:#e7e7e7"><span>0.55</span></div><div class="c" style="left:263.4px;top:548.3px;height:17.3px;line-height:17.3px;background:#e7e7e7"><span>380</span></div><div class="c" style="left:306.75px;top:548.3px;height:17.3px;line-height:17.3px;background:#e7e7e7"><span>300</span></div><div class="c" style="left:3.3px;top:567.2px;height:17.3px;line-height:17.3px;background:#e7e7e7"><span>4</span></div><div class="c" style="left:46.65px;top:567.2px;height:17.3px;line-height:17.3px;background:#e7e7e7"><span>230</span></div><div class="c" style="left:90px;top:567.2px;height:17.3px;line-height:17.3px;background:#e7e7e7"><span>50</span></div><div class="c" style="left:133.35px;top:567.2px;height:17.3px;line-height:17.3px;background:#e7e7e7"><span>2710</span></div><div class="c" style="left:176.7px;top:567.2px;height:17.3px;line-height:17.3px;background:#e7e7e7"><span>107</span></div><div class="c" style="left:220.05px;top:567.2px;height:17.3px;line-height:17.3px;background:#e7e7e7"><span>0.47</span></div><div class="c" style="left:263.4px;top:567.2px;height:17.3px;line-height:17.3px;background:#e7e7e7"><span>280</span></div><div class="c" style="left:306.75px;top:567.2px;height:17.3px;line-height:17.3px;background:#e7e7e7"><span>400</span></div><div class="bot"></div>
</body></html>
